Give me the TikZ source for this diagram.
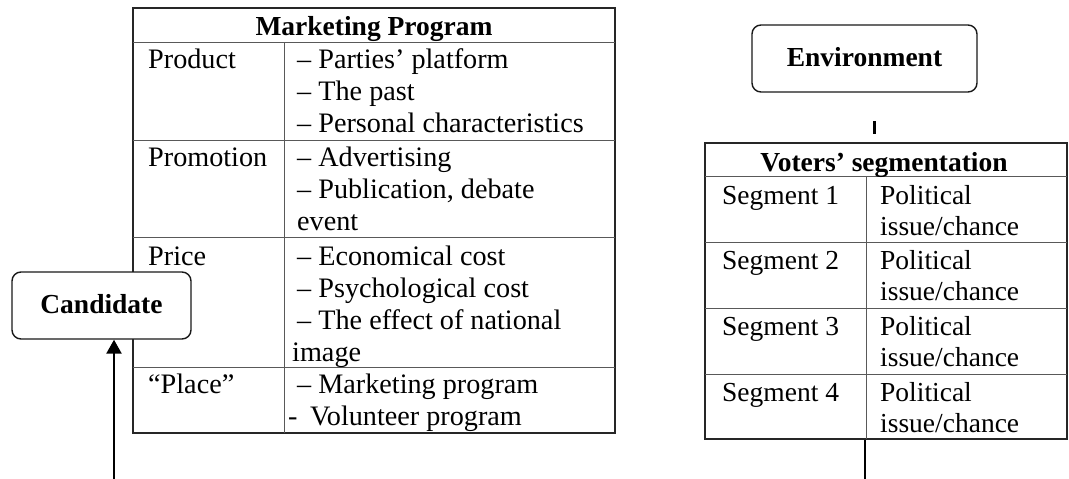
\documentclass[tikz,border=0pt]{standalone}
\usepackage{fontspec}
\setmainfont{Liberation Serif}
\usetikzlibrary{arrows.meta}
\begin{document}
\begin{tikzpicture}[x=1pt,y=-1pt,
  txt/.style={anchor=base west, inner sep=0pt, font=\fontsize{27.5}{32}\selectfont},
  ltxt/.style={anchor=base west, inner sep=0pt, font=\fontsize{28.2}{32}\selectfont},
  hdr/.style={anchor=base, inner sep=0pt, font=\fontsize{27.5}{32}\selectfont\bfseries},
  frame/.style={draw=black!85, line width=1.2pt, inner sep=0pt},
  inner/.style={draw=black!65, line width=0.8pt},
  roundbox/.style={draw=black!90, line width=1.4pt, rounded corners=9pt, fill=white,
    inner sep=0pt, text height=19pt, text depth=3pt,
    font=\fontsize{27.5}{32}\selectfont\bfseries},
  link/.style={draw=black, line width=2.5pt}
]
\useasboundingbox (0,0) rectangle (1069,479);

% ---------- Marketing Program table ----------
\node[frame, minimum width=482pt, minimum height=425pt] (mp) at (374,220.5) {};
\draw[inner] (133,42) -- (615,42);
\draw[inner] (133,140) -- (615,140);
\draw[inner] (133,237) -- (615,237);
\draw[inner] (133,367) -- (615,367);
\draw[inner] (284,42) -- (284,433);

\node[hdr] (mph) at (374,35) {Marketing Program};
\node[ltxt] (prod) at (148,68) {Product};
\node[ltxt] (prod1) at (297,68) {– Parties’ platform};
\node[ltxt] (prod2) at (297,100) {– The past};
\node[ltxt] (prod3) at (297,132) {– Personal characteristics};
\node[ltxt] (prom) at (148,166) {Promotion};
\node[ltxt] (prom1) at (297,166) {– Advertising};
\node[ltxt] (prom2) at (297,198) {– Publication, debate};
\node[ltxt] (prom3) at (297,230) {event};
\node[ltxt] (pric) at (148,265) {Price};
\node[ltxt] (pric1) at (297,265) {– Economical cost};
\node[ltxt] (pric2) at (297,297) {– Psychological cost};
\node[ltxt] (pric3) at (297,329) {– The effect of national};
\node[ltxt] (pric4) at (292,361) {image};
\node[ltxt] (plac) at (148,393) {“Place”};
\node[ltxt] (plac1) at (297,393) {– Marketing program};
\node[ltxt] (plac2a) at (288,425) {-};
\node[ltxt] (plac2) at (310,425) {Volunteer program};

% ---------- Candidate ----------
\node[roundbox, minimum width=179pt, minimum height=67pt] (cand) at (101.5,305.5) {Candidate};
\coordinate (candin) at (114,479);
\draw[link, -{Triangle[width=15pt,length=14pt]}] (candin) -- (candin |- cand.south);

% ---------- Environment ----------
\node[roundbox, minimum width=225pt, minimum height=67pt] (env) at (864.5,58.5) {Environment};
\coordinate (tickA) at (874.5,121);
\coordinate (tickB) at (874.5,134);
\draw[draw=black, line width=3pt] (tickA) -- (tickB);

% ---------- Voters' segmentation table ----------
\node[frame, minimum width=362pt, minimum height=296pt] (vt) at (886,291) {};
\draw[inner] (705,176) -- (1067,176);
\draw[inner] (705,242) -- (1067,242);
\draw[inner] (705,308) -- (1067,308);
\draw[inner] (705,374) -- (1067,374);
\draw[inner] (866,176) -- (866,439);

\node[hdr] (vth) at (884,171) {Voters’ segmentation};
\node[txt] (s1) at (722,204) {Segment 1};
\node[txt] (s1a) at (880,204) {Political};
\node[txt] (s1b) at (880,235) {issue/chance};
\node[txt] (s2) at (722,269) {Segment 2};
\node[txt] (s2a) at (880,269) {Political};
\node[txt] (s2b) at (880,300) {issue/chance};
\node[txt] (s3) at (722,335) {Segment 3};
\node[txt] (s3a) at (880,335) {Political};
\node[txt] (s3b) at (880,366) {issue/chance};
\node[txt] (s4) at (722,401) {Segment 4};
\node[txt] (s4a) at (880,401) {Political};
\node[txt] (s4b) at (880,432) {issue/chance};

\coordinate (vtout) at (865,479);
\draw[link, line width=2pt] (vtout) -- (vtout |- vt.south);
\end{tikzpicture}
\end{document}
